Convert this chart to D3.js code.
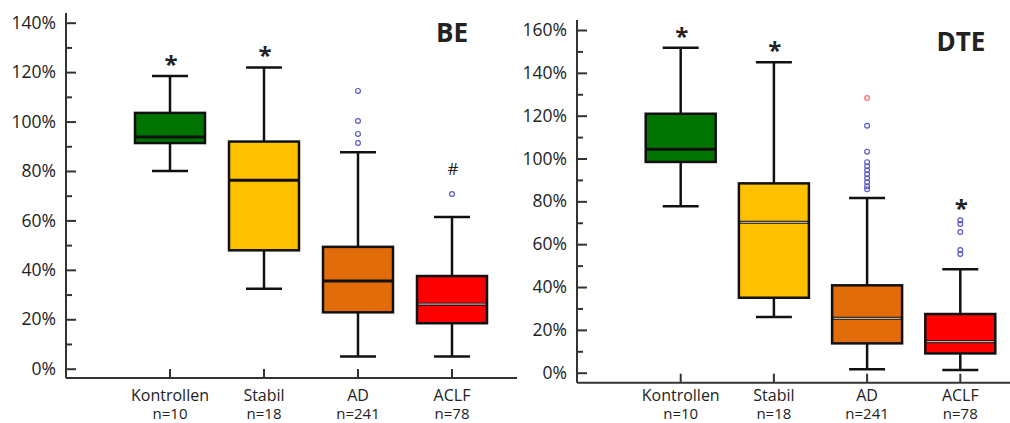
<!DOCTYPE html>
<html>
<head>
<meta charset="utf-8">
<script src="https://cdn.jsdelivr.net/npm/d3@7"></script>
<style>
  body { margin: 0; background: #fff; }
  text { font-family: "Open Sans", sans-serif; fill: #222; }
</style>
</head>
<body>
<div class="chart"></div>
<script>
// groups and sample sizes
var categories = ["Kontrollen", "Stabil", "AD", "ACLF"];
var counts = ["n=10", "n=18", "n=241", "n=78"];
var boxColors = ["#007400", "#ffc000", "#e36c0a", "#ff0000"];

// BE panel (percent): lower whisker, q1, median, q3, upper whisker
var beLow = [80, 32.4, 4.9, 4.9];
var beQ1 = [91.3, 47.9, 22.8, 18.4];
var beMedian = [93.8, 76.3, 35.5, 26.1];
var beQ3 = [103.5, 91.9, 49.3, 37.5];
var beHigh = [118.4, 121.9, 87.6, 61.4];
var beOutliers = [[], [], [112.4, 100.2, 95, 91.3], [70.7]];
var beMarks = ["*", "*", "", "#"];
var beTicks = [0, 20, 40, 60, 80, 100, 120, 140];

// DTE panel (percent)
var dteLow = [77.7, 26, 1.6, 1.3];
var dteQ1 = [98.4, 35, 13.7, 9];
var dteMedian = [104.3, 70.2, 25.4, 14.5];
var dteQ3 = [120.9, 88.4, 40.8, 27.4];
var dteHigh = [151.7, 145, 81.6, 48.3];
var dteOutliers = [[], [], [128.2, 115.3, 103.2, 98.3, 96.4, 94.5, 92.7, 90.8, 88.9, 87.1, 85.6], [71.2, 69.4, 65.7, 57.3, 55.4]];
var dteExtreme = [[], [], [128.2], []];
var dteMarks = ["*", "*", "", "*"];
var dteTicks = [0, 20, 40, 60, 80, 100, 120, 140, 160];

var svg = d3.select(".chart")
  .append("svg")
  .attr("width", 1010)
  .attr("height", 423);

function drawPanel(p) {
  var g = svg.append("g");

  var x = d3.scalePoint()
    .domain(categories)
    .range([p.x0, p.x1]);

  var y = d3.scaleLinear()
    .domain([0, p.yMax])
    .range([p.yBottom, p.yTop]);

  // axis lines
  g.append("line")
    .attr("x1", p.axisX).attr("x2", p.axisX)
    .attr("y1", p.axisTop).attr("y2", p.axisY)
    .attr("stroke", "#333").attr("stroke-width", 2);
  g.append("line")
    .attr("x1", p.axisX).attr("x2", p.axisRight)
    .attr("y1", p.axisY).attr("y2", p.axisY)
    .attr("stroke", "#333").attr("stroke-width", 2);

  // major ticks with labels, pointing inward
  var leftAxis = d3.axisLeft(y)
    .tickValues(p.ticks)
    .tickFormat(d => d + "%")
    .tickSizeInner(-10)
    .tickSizeOuter(0)
    .tickPadding(10);
  var ax = g.append("g")
    .attr("transform", `translate(${p.axisX},0)`)
    .call(leftAxis);
  ax.select(".domain").remove();
  ax.selectAll("line").attr("stroke", "#333").attr("stroke-width", 2);
  ax.selectAll("text")
    .style("font-family", "'Open Sans', sans-serif")
    .style("font-size", "17.5px")
    .attr("fill", "#222");

  // minor ticks
  var minor = p.ticks.slice(0, -1).map(t => t + 10);
  var minorAxis = d3.axisLeft(y)
    .tickValues(minor)
    .tickFormat("")
    .tickSizeInner(-6)
    .tickSizeOuter(0);
  var mx = g.append("g")
    .attr("transform", `translate(${p.axisX},0)`)
    .call(minorAxis);
  mx.select(".domain").remove();
  mx.selectAll("line").attr("stroke", "#333").attr("stroke-width", 2);

  // category ticks on x axis
  g.selectAll(".xtick")
    .data(categories)
    .enter()
    .append("line")
    .attr("x1", d => x(d)).attr("x2", d => x(d))
    .attr("y1", p.axisY).attr("y2", p.axisY - 9)
    .attr("stroke", "#333").attr("stroke-width", 2);

  // category labels (two lines)
  g.selectAll(".xlab")
    .data(categories)
    .enter()
    .append("text")
    .attr("x", d => x(d))
    .attr("y", 401)
    .attr("text-anchor", "middle")
    .style("font-size", "16px")
    .text(d => d);
  g.selectAll(".nlab")
    .data(counts)
    .enter()
    .append("text")
    .attr("x", (d, i) => x(categories[i]))
    .attr("y", 419)
    .attr("text-anchor", "middle")
    .style("font-size", "15px")
    .text(d => d);

  var boxW = 70, capW = 36;

  categories.forEach(function(c, i) {
    var cx = x(c);

    // whiskers
    g.append("line")
      .attr("x1", cx).attr("x2", cx)
      .attr("y1", y(p.high[i])).attr("y2", y(p.q3[i]))
      .attr("stroke", "#111").attr("stroke-width", 2.5);
    g.append("line")
      .attr("x1", cx).attr("x2", cx)
      .attr("y1", y(p.q1[i])).attr("y2", y(p.low[i]))
      .attr("stroke", "#111").attr("stroke-width", 2.5);
    [p.high[i], p.low[i]].forEach(function(v) {
      g.append("line")
        .attr("x1", cx - capW / 2).attr("x2", cx + capW / 2)
        .attr("y1", y(v)).attr("y2", y(v))
        .attr("stroke", "#111").attr("stroke-width", 2.5);
    });

    // box
    g.append("rect")
      .attr("x", cx - boxW / 2)
      .attr("y", y(p.q3[i]))
      .attr("width", boxW)
      .attr("height", y(p.q1[i]) - y(p.q3[i]))
      .attr("fill", boxColors[i])
      .attr("stroke", "#111")
      .attr("stroke-width", 2.5);

    // median
    g.append("line")
      .attr("x1", cx - boxW / 2).attr("x2", cx + boxW / 2)
      .attr("y1", y(p.median[i])).attr("y2", y(p.median[i]))
      .attr("stroke", "#111").attr("stroke-width", 3);
    if (p.greyMedian[i]) {
      g.append("line")
        .attr("x1", cx - boxW / 2 + 1.5).attr("x2", cx + boxW / 2 - 1.5)
        .attr("y1", y(p.median[i])).attr("y2", y(p.median[i]))
        .attr("stroke", "#b0b0b0").attr("stroke-width", 1.2);
    }

    // outliers
    g.selectAll(null)
      .data(p.outliers[i])
      .enter()
      .append("circle")
      .attr("cx", cx)
      .attr("cy", d => y(d))
      .attr("r", 2.4)
      .attr("fill", "none")
      .attr("stroke", d => p.extreme[i].indexOf(d) >= 0 ? "#ff6a6a" : "#5a5ac8")
      .attr("stroke-width", 1.2);

    // significance marks
    if (p.marks[i]) {
      var top = p.outliers[i].length ? d3.max(p.outliers[i]) : p.high[i];
      var star = p.marks[i] === "*";
      g.append("text")
        .attr("x", cx + 1)
        .attr("y", y(top) - (star ? 3 : 19))
        .attr("text-anchor", "middle")
        .style("font-size", star ? "24px" : "17px")
        .style("font-weight", star ? "bold" : "normal")
        .text(p.marks[i]);
    }
  });

  // panel title
  g.append("text")
    .attr("x", p.titleX)
    .attr("y", p.titleY)
    .attr("text-anchor", "middle")
    .style("font-size", "26px")
    .style("font-weight", "bold")
    .attr("fill", "#000")
    .text(p.title);
}

drawPanel({
  title: "BE", titleX: 452, titleY: 42,
  x0: 170, x1: 452,
  yMax: 140, yBottom: 368.7, yTop: 22.7,
  axisX: 66, axisTop: 13, axisY: 378, axisRight: 517,
  ticks: beTicks,
  low: beLow, q1: beQ1, median: beMedian, q3: beQ3, high: beHigh,
  outliers: beOutliers, extreme: [[], [], [], []], marks: beMarks,
  greyMedian: [false, false, false, true]
});

drawPanel({
  title: "DTE", titleX: 961, titleY: 51,
  x0: 680.7, x1: 960.3,
  yMax: 160, yBottom: 372.7, yTop: 30,
  axisX: 577, axisTop: 20, axisY: 382.7, axisRight: 1010,
  ticks: dteTicks,
  low: dteLow, q1: dteQ1, median: dteMedian, q3: dteQ3, high: dteHigh,
  outliers: dteOutliers, extreme: dteExtreme, marks: dteMarks,
  greyMedian: [false, true, true, true]
});
</script>
</body>
</html>
